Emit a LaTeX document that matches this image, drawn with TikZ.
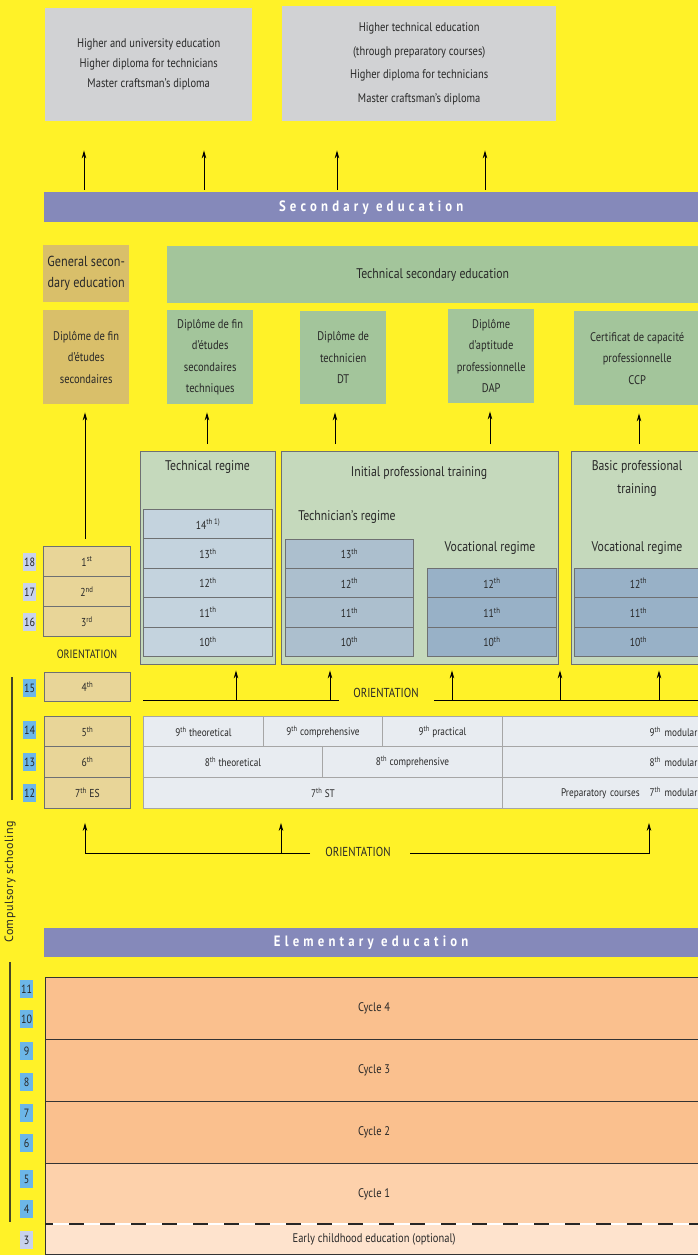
\documentclass[tikz,border=0pt]{standalone}
\usepackage{fontspec}
\setmainfont{PT Sans}[FakeStretch=0.84]
\newfontfamily\bandfont{PT Sans}[FakeStretch=0.85, LetterSpace=28]
\newfontfamily\sidefont{PT Sans}[LetterSpace=4]
\usepackage{tikz}
\usetikzlibrary{arrows.meta, positioning, calc}

\definecolor{bgyellow}{RGB}{255,242,40}
\definecolor{higrey}{RGB}{209,210,212}
\definecolor{bandblue}{RGB}{133,137,186}
\definecolor{tandark}{RGB}{217,191,106}
\definecolor{tanlight}{RGB}{232,213,152}
\definecolor{diplgreen}{RGB}{163,197,155}
\definecolor{regimegreen}{RGB}{197,217,188}
\definecolor{rowlight}{RGB}{196,211,222}
\definecolor{rowmid}{RGB}{172,191,206}
\definecolor{rowdark}{RGB}{152,177,199}
\definecolor{cellgrey}{RGB}{232,236,241}
\definecolor{ageblue}{RGB}{108,182,232}
\definecolor{agepale}{RGB}{200,210,236}
\definecolor{cycdark}{RGB}{250,192,142}
\definecolor{cycmid}{RGB}{253,209,171}
\definecolor{cyclight}{RGB}{254,227,205}
\definecolor{edgegrey}{RGB}{110,112,114}
\definecolor{inkgrey}{RGB}{40,40,40}
\definecolor{sideolive}{RGB}{70,70,40}

\tikzstyle{box} = [rectangle, anchor=north west, inner sep=0pt, align=center, text=inkgrey, font=\fontsize{12.5}{21.5}\selectfont]
\tikzstyle{higher} = [box, fill=higrey, font=\fontsize{12.5}{20}\selectfont]
\tikzstyle{band} = [box, fill=bandblue, text=white, font=\bandfont\bfseries\fontsize{15}{16}\selectfont]
\tikzstyle{diploma} = [box, fill=diplgreen]
\tikzstyle{general} = [box, fill=tandark]
\tikzstyle{regime} = [box, draw=edgegrey, line width=1.4pt, fill=regimegreen]
\tikzstyle{yearbox} = [box, draw=edgegrey, line width=0.9pt, font=\fontsize{11.5}{12}\selectfont]
\tikzstyle{genyear} = [yearbox, fill=tanlight]
\tikzstyle{cell} = [box, draw=gray!70, line width=0.9pt, fill=cellgrey, font=\fontsize{11}{12}\selectfont]
\tikzstyle{cyclebox} = [box, draw=black!80, line width=1.2pt]
\tikzstyle{regtitle} = [align=center, text=inkgrey, inner sep=0pt, font=\fontsize{14}{23}\selectfont]
\tikzstyle{orient} = [inner sep=0pt, text=inkgrey, font=\fontsize{13}{14}\selectfont]
\tikzstyle{agebox} = [rectangle, inner sep=0pt, minimum width=13pt, minimum height=18pt, fill=ageblue, text=inkgrey, font=\fontsize{12}{12}\selectfont]
\tikzstyle{arrow} = [line width=0.9pt, ->, >={Stealth[length=8pt, width=4.5pt]}]
\tikzstyle{orline} = [line width=0.9pt]
\tikzstyle{sideline} = [line width=1.2pt, draw=sideolive]
\tikzset{wh/.style 2 args={minimum width=#1pt, minimum height=#2pt}}

\begin{document}
\begin{tikzpicture}[x=1pt, y=-1pt]
  \useasboundingbox (0,0) rectangle (698,1255);
  \fill[bgyellow] (0,0) rectangle (698,1255);

  % higher education
  \node[higher, wh={207}{113}] (higherA) at (45,8) {Higher and university education\\Higher diploma for technicians\\Master craftsman’s diploma};
  \node[higher, wh={274}{115}, font=\fontsize{12.5}{23.5}\selectfont] (higherB) at (282,6) {Higher technical education\\(through preparatory courses)\\Higher diploma for technicians\\Master craftsman’s diploma};

  \node[band, wh={654}{30}] (secband) at (44,192) {Secondary education};
  \foreach \x in {84,204}
    \draw[arrow, shorten <=2pt, shorten >=29pt] (\x,0 |- secband.north) -- (\x,0 |- higherA.south);
  \foreach \x in {337,485}
    \draw[arrow, shorten <=2pt, shorten >=29pt] (\x,0 |- secband.north) -- (\x,0 |- higherB.south);

  % secondary education and diplomas
  \node[general, wh={86}{57}, font=\fontsize{14.5}{21}\selectfont] (gensec) at (43,245) {General secon-\\dary education};
  \node[diploma, wh={531}{57}, font=\fontsize{14}{15}\selectfont] (techsec) at (167,246) {Technical secondary education};
  \node[general, wh={86}{94}] (dipA) at (43,310) {Diplôme de fin\\d’études\\secondaires};
  \node[diploma, wh={86}{94}] (dipB) at (167,310) {Diplôme de fin\\d’études\\secondaires\\techniques};
  \node[diploma, wh={86}{93}] (dipC) at (300,311) {Diplôme de\\technicien\\DT};
  \node[diploma, wh={86}{94}] (dipD) at (448,309) {Diplôme\\d’aptitude\\professionnelle\\DAP};
  \node[diploma, wh={126}{94}] (dipE) at (574,311) {Certificat de capacité\\professionnelle\\CCP};

  % regimes
  \node[regime, wh={135}{213}] (techreg) at (140,451) {};
  \node[regime, wh={277}{213}] (initreg) at (281,451) {};
  \node[regime, wh={131}{213}] (basicreg) at (571,451) {};
  \node[regtitle] (techtitle) at (207.5,467) {Technical regime};
  \node[regtitle] (inittitle) at (419,473) {Initial professional training};
  \node[regtitle] (basictitle) at (637,479) {Basic professional\\training};
  \node[regtitle] (techntitle) at (347,517) {Technician’s regime};
  \node[regtitle] (voctitleA) at (490,548) {Vocational regime};
  \node[regtitle] (voctitleB) at (637,548) {Vocational regime};

  \foreach \lab [count=\i from 0] in {14\textsuperscript{th 1)}, 13\textsuperscript{th}, 12\textsuperscript{th}, 11\textsuperscript{th}, 10\textsuperscript{th}}
    \node[yearbox, fill=rowlight, wh={129}{29.4}] (tech\i) at (143,509+29.4*\i) {\lab};
  \foreach \lab [count=\i from 0] in {13\textsuperscript{th}, 12\textsuperscript{th}, 11\textsuperscript{th}, 10\textsuperscript{th}}
    \node[yearbox, fill=rowmid, wh={128}{29.4}] (techn\i) at (285,538.6+29.4*\i) {\lab};
  \foreach \lab [count=\i from 0] in {12\textsuperscript{th}, 11\textsuperscript{th}, 10\textsuperscript{th}}
    \node[yearbox, fill=rowdark, wh={129}{29.4}] (voc\i) at (427,568+29.4*\i) {\lab};
  \foreach \lab [count=\i from 0] in {12\textsuperscript{th}, 11\textsuperscript{th}, 10\textsuperscript{th}}
    \node[yearbox, fill=rowdark, wh={128}{29.4}] (basic\i) at (574,568+29.4*\i) {\lab};

  % general secondary years
  \foreach \lab [count=\i] in {1\textsuperscript{st}, 2\textsuperscript{nd}, 3\textsuperscript{rd}}
    \node[genyear, wh={87}{30}] (gen\i) at (43,546+30*\i-30) {\lab};
  \node[orient, font=\fontsize{12}{13}\selectfont] (orient1) at (87,654) {ORIENTATION};
  \node[genyear, wh={86}{29}] (gen4) at (44,672) {4\textsuperscript{th}};
  \node[genyear, wh={86}{30}] (gen5) at (44,716) {5\textsuperscript{th}};
  \node[genyear, wh={86}{31}] (gen6) at (44,746) {6\textsuperscript{th}};
  \node[genyear, wh={86}{31}] (gen7) at (44,777) {7\textsuperscript{th} ES};

  \draw[arrow, shorten <=7pt, shorten >=8pt] (85,0 |- gen1.north) -- (85,0 |- dipA.south);
  \foreach \x/\reg/\dip in {207/techreg/dipB, 335/initreg/dipC, 490/initreg/dipD, 639/basicreg/dipE}
    \draw[arrow, shorten <=7pt, shorten >=8pt] (\x,0 |- \reg.north) -- (\x,0 |- \dip.south);

  % lower secondary table
  \node[cell, wh={120}{30}] (c9t) at (143,716) {9\textsuperscript{th} theoretical};
  \node[cell, wh={119}{30}] (c9c) at (263,716) {9\textsuperscript{th} comprehensive};
  \node[cell, wh={120}{30}] (c9p) at (382,716) {9\textsuperscript{th} practical};
  \node[cell, wh={198}{30}, text width=192pt, align=right] (c9m) at (502,716) {9\textsuperscript{th} modular};
  \node[cell, wh={179}{31}] (c8t) at (143,746) {8\textsuperscript{th} theoretical};
  \node[cell, wh={180}{31}] (c8c) at (322,746) {8\textsuperscript{th} comprehensive};
  \node[cell, wh={198}{31}, text width=192pt, align=right] (c8m) at (502,746) {8\textsuperscript{th} modular};
  \node[cell, wh={359}{31}] (c7st) at (143,777) {7\textsuperscript{th} ST};
  \node[cell, wh={198}{31}, text width=192pt, align=right] (c7m) at (502,777) {Preparatory courses\hspace{10pt}7\textsuperscript{th} modular};

  % orientation after 4th year
  \coordinate (orL) at (143,700);
  \coordinate (orM) at (339,700);
  \coordinate (orR) at (434,700);
  \coordinate (orE) at (700,700);
  \node[orient] (orient2) at (386,693) {ORIENTATION};
  \draw[orline] (orL) -- (orM);
  \draw[orline] (orR) -- (orE);
  \foreach \x/\reg in {236/techreg, 330/initreg, 452/initreg, 560/initreg, 659/basicreg}
    \draw[arrow, shorten >=5pt] (\x,0 |- orL) -- (\x,0 |- \reg.south);

  % orientation after elementary
  \coordinate (obL) at (85,853);
  \coordinate (obM) at (310,853);
  \coordinate (obR) at (410,853);
  \coordinate (obE) at (649,853);
  \node[orient] (orient3) at (358,852) {ORIENTATION};
  \draw[orline] (obM) -- (obL);
  \draw[arrow, shorten >=14pt] (obL) -- (obL |- gen7.south);
  \draw[arrow, shorten >=14pt] (281,0 |- obL) -- (281,0 |- c7st.south);
  \draw[arrow, shorten >=14pt] (obR) -- (obE) -- (obE |- c7m.south);

  % ages
  \foreach \a/\y in {18/562, 17/592, 16/622}
    \node[agebox, fill=agepale] (age\a) at (29.5,\y) {\a};
  \foreach \a/\y in {15/688, 14/730, 13/762, 12/793}
    \node[agebox] (age\a) at (29.5,\y) {\a};
  \foreach \a/\y in {11/989, 10/1019, 9/1051, 8/1082, 7/1113, 6/1143, 5/1179, 4/1209}
    \node[agebox] (age\a) at (26.5,\y) {\a};
  \node[agebox, fill=agepale] (age3) at (26.5,1240) {3};

  % compulsory schooling
  \draw[sideline] (12,677) -- (12,800);
  \draw[sideline] (10,962) -- (10,1222);
  \node[rotate=90, inner sep=0pt, text=inkgrey, font=\sidefont\fontsize{12}{13}\selectfont] (compulsory) at (10,882) {Compulsory schooling};

  % elementary education
  \node[band, wh={654}{29}] (elemband) at (44,928) {Elementary education};
  \node[cyclebox, fill=cycdark, wh={657}{62}] (cyc4) at (45,977) {Cycle 4};
  \node[cyclebox, fill=cycdark, wh={657}{62}] (cyc3) at (45,1039) {Cycle 3};
  \node[cyclebox, fill=cycdark, wh={657}{62}] (cyc2) at (45,1101) {Cycle 2};
  \node[cyclebox, fill=cycmid, wh={657}{61}] (cyc1) at (45,1163) {Cycle 1};
  \node[cyclebox, fill=cyclight, wh={657}{30}] (early) at (45,1224) {Early childhood education (optional)};
  \draw[white, line width=1.6pt] (early.north west) -- (early.north east);
  \draw[black!85, line width=1.6pt, dash pattern=on 15pt off 16pt, dash phase=7pt] (early.north west) -- (early.north east);
\end{tikzpicture}
\end{document}
